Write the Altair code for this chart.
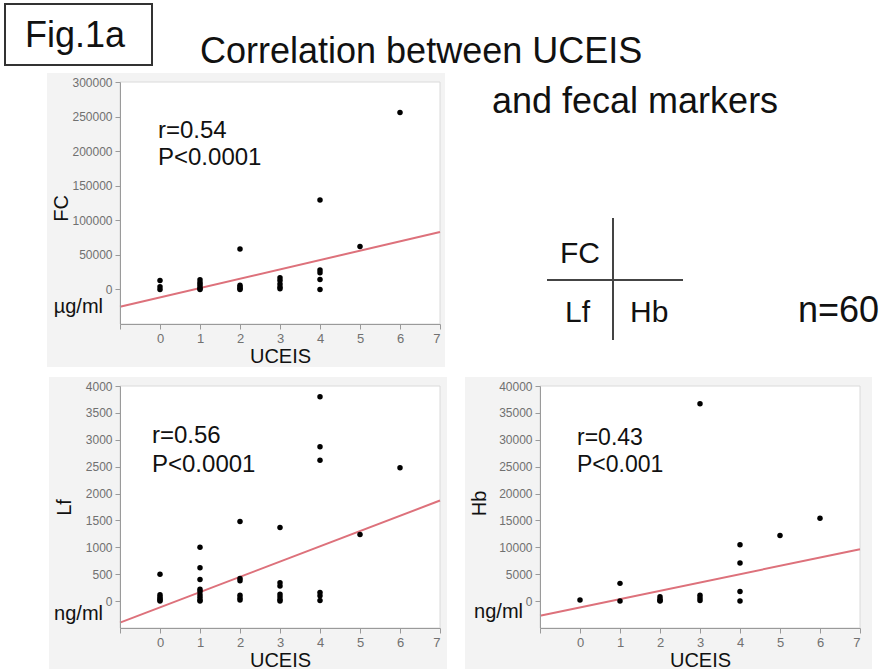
import altair as alt
import pandas as pd

FONT = "Liberation Sans"

# ---------------- data ----------------
uceis_ticks = [-1, 0, 1, 2, 3, 4, 5, 6, 7]
fit_x = [-1, 7]

fc_uceis = [0, 0, 0, 1, 1, 1, 1, 1, 1, 2, 2, 2, 2, 2, 3, 3, 3, 3, 3, 4, 4, 4, 4, 4, 5, 6]
fc_values = [13000, 4000, 0, 14000, 10000, 7000, 4000, 1500, 0,
             58500, 6000, 3500, 1500, 0, 17000, 13000, 8000, 3500, 1000,
             129500, 28000, 24000, 14500, 0, 62000, 256000]
fc_fit = [-25000, 83000]
fc_ticks = [0, 50000, 100000, 150000, 200000, 250000, 300000]

lf_uceis = [0, 0, 0, 0, 0, 0, 1, 1, 1, 1, 1, 1, 1, 1, 1, 2, 2, 2, 2, 2, 2,
            3, 3, 3, 3, 3, 3, 3, 4, 4, 4, 4, 4, 4, 5, 6]
lf_values = [500, 120, 80, 50, 20, 0,
             1000, 620, 400, 220, 180, 120, 70, 20, 0,
             1480, 420, 380, 110, 60, 20,
             1370, 340, 280, 130, 80, 30, 0,
             3800, 2870, 2620, 160, 100, 10,
             1240, 2480]
lf_fit = [-400, 1870]
lf_ticks = [0, 500, 1000, 1500, 2000, 2500, 3000, 3500, 4000]

hb_uceis = [0, 1, 1, 2, 2, 2, 2, 3, 3, 3, 3, 4, 4, 4, 4, 5, 6]
hb_values = [200, 3300, 0, 800, 400, 100, 0, 36700, 1100, 600, 100,
             10500, 7100, 1800, 0, 12200, 15400]
hb_fit = [-2720, 9650]
hb_ticks = [0, 5000, 10000, 15000, 20000, 25000, 30000, 35000, 40000]

fig_label = "Fig.1a"
title_lines = ["Correlation between UCEIS", "and fecal markers"]
legend_labels = ["FC", "Lf", "Hb"]
n_label = "n=60"

W, H = 320, 242
one = pd.DataFrame({"k": [0]})


def txt(s, x, y, size, align="left", color="#111111"):
    return alt.Chart(one).mark_text(
        text=s, align=align, baseline="alphabetic", fontSize=size, font=FONT, color=color
    ).encode(x=alt.value(x), y=alt.value(y))


AX = dict(labelFont=FONT, labelColor="#707070", tickColor="#9a9a9a",
          domainColor="#9a9a9a", tickSize=5, labelPadding=3, titleFont=FONT,
          titleFontSize=20, titleFontWeight="normal", titleColor="#111111",
          grid=False, zindex=2)


def panel(uceis, vals, fit, domain, ticks, ytitle, title_x, title_y,
          unit, unit_y, stat_lines, stat_x, stat_ys, stat_size, bg):
    x = alt.X("UCEIS:Q",
              scale=alt.Scale(domain=[-1, 7], nice=False, zero=False),
              axis=alt.Axis(values=uceis_ticks, title="UCEIS", titleY=38,
                            titleBaseline="alphabetic", labelFontSize=13,
                            labelExpr="datum.value < 0 ? '' : datum.label", **AX))
    y = alt.Y("value:Q",
              scale=alt.Scale(domain=domain, nice=False, zero=False),
              axis=alt.Axis(values=ticks, format="d", title=ytitle, labelFontSize=12,
                            titleAngle=270, titleX=title_x, titleY=title_y,
                            titleAlign="center", titleBaseline="alphabetic", **AX))
    bgr = alt.Chart(one).mark_rect(color="#f3f3f3").encode(
        x=alt.value(bg[0]), x2=alt.value(bg[1]), y=alt.value(bg[2]), y2=alt.value(bg[3]))
    plot_bg = alt.Chart(one).mark_rect(color="white", stroke="#dadada", strokeWidth=1).encode(
        x=alt.value(0), x2=alt.value(W), y=alt.value(0), y2=alt.value(H))
    line = alt.Chart(pd.DataFrame({"UCEIS": fit_x, "value": fit})).mark_line(
        color="#dd717b", strokeWidth=2).encode(x=x, y=y)
    pts = alt.Chart(pd.DataFrame({"UCEIS": uceis, "value": vals})).mark_circle(
        size=30, color="black", opacity=1).encode(x=x, y=y)
    layers = [bgr, plot_bg, line, pts,
              txt(unit, -17, unit_y, 20, align="right")]
    for s, yy in zip(stat_lines, stat_ys):
        layers.append(txt(s, stat_x, yy, stat_size))
    return layers


# top panel (FC) with titles and legend cross
fc_layers = panel(fc_uceis, fc_values, fc_fit, [-50000, 300000], fc_ticks, "FC",
                  -53, 126, "µg/ml", 231, ["r=0.54", "P<0.0001"], 38, [56, 83], 24,
                  [-73, 325, -9, 285])

deco = [
    alt.Chart(one).mark_rect(fillOpacity=0, stroke="#333333", strokeWidth=2).encode(
        x=alt.value(-115), x2=alt.value(32), y=alt.value(-78), y2=alt.value(-17)),
    txt(fig_label, -95, -35, 36),
    txt(title_lines[0], 80, -19, 36),
    txt(title_lines[1], 372, 31, 36),
    alt.Chart(one).mark_rule(color="#444444", strokeWidth=2).encode(
        x=alt.value(493), y=alt.value(136), y2=alt.value(258)),
    alt.Chart(one).mark_rule(color="#444444", strokeWidth=2).encode(
        x=alt.value(427), x2=alt.value(563), y=alt.value(198)),
    txt(legend_labels[0], 440, 181, 30),
    txt(legend_labels[1], 445, 240, 30),
    txt(legend_labels[2], 510, 240, 30),
    txt(n_label, 678, 240, 36),
]

top = alt.layer(*(fc_layers + deco)).properties(width=W, height=H)

lf = alt.layer(*panel(lf_uceis, lf_values, lf_fit, [-500, 4000], lf_ticks, "Lf",
                      -50, 121, "ng/ml", 234, ["r=0.56", "P<0.0001"], 32, [57, 86], 24,
                      [-71, 327, -9, 290])).properties(width=W, height=H)

hb = alt.layer(*panel(hb_uceis, hb_values, hb_fit, [-5000, 40000], hb_ticks, "Hb",
                      -55, 117, "ng/ml", 232, ["r=0.43", "P<0.001"], 37, [59, 86], 23,
                      [-75, 332, -9, 290])).properties(width=W, height=H)

bottom = alt.HConcatChart(hconcat=[lf, hb], spacing=100, bounds="flush")

chart = alt.VConcatChart(vconcat=[top, bottom], spacing=62, bounds="flush").properties(
    padding={"left": 4, "top": 3, "right": 0, "bottom": 0},
    background="white",
).configure_view(strokeWidth=0)

chart.save("out.html", embed_options={"renderer": "svg", "actions": False})
